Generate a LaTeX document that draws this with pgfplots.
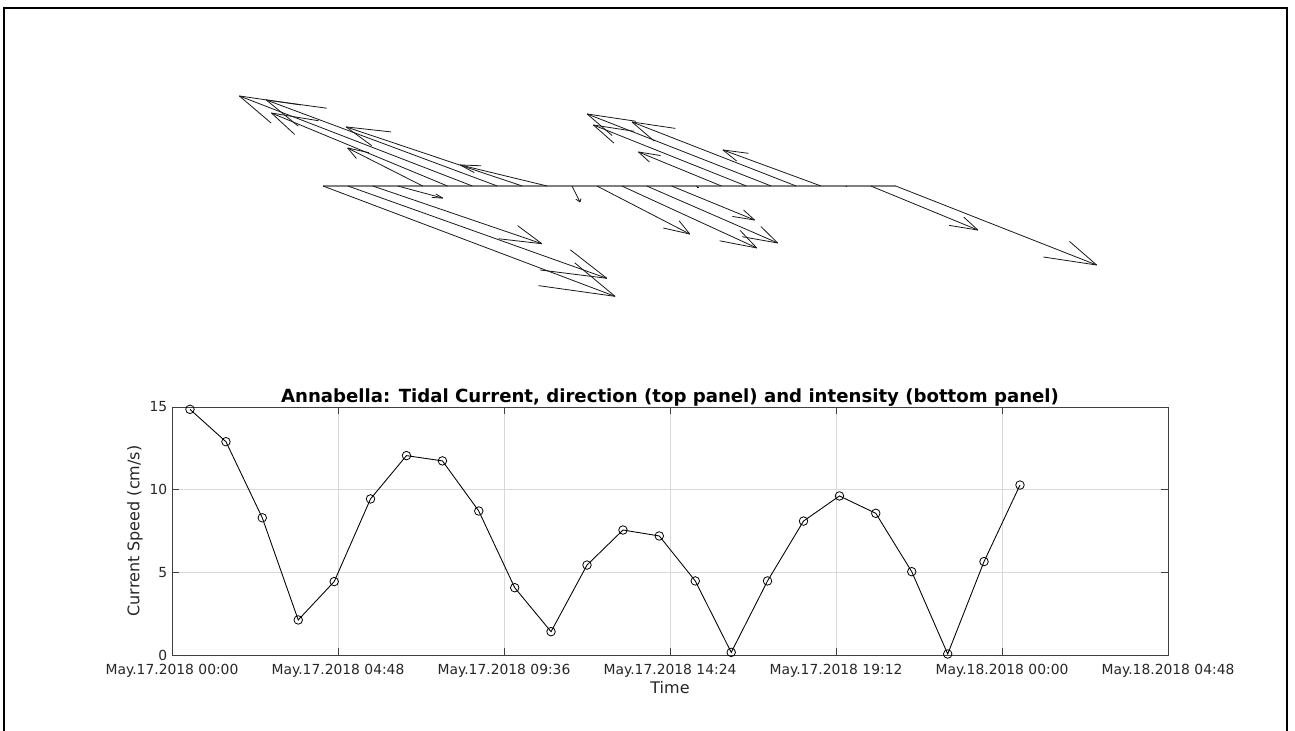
\documentclass[border=0pt]{standalone}
\usepackage{pgfplots}
\pgfplotsset{compat=1.18}
\usepackage{pgfplotstable}
\usepackage{fontspec}
\setmainfont{DejaVu Sans}

% feather (direction) data: index, u, v
\pgfplotstableread{
x u v
0 11.73 -9.12
1 10.40 -7.63
2 6.79 -4.77
3 1.81 -1.00
4 -3.01 3.14
5 -7.07 6.03
6 -9.36 7.44
7 -9.28 7.11
8 -7.07 4.88
9 -3.49 1.74
10 0.32 -1.32
11 3.73 -3.97
12 5.42 -5.12
13 5.26 -4.71
14 3.33 -2.81
15 0.06 -0.15
16 -3.33 2.81
17 -6.14 5.04
18 -7.39 5.95
19 -6.59 5.29
20 -3.94 2.98
21 0.03 -0.05
22 4.30 -3.64
23 8.07 -6.53
}\arrows

% speed data: hours after May.17.2018 00:00, speed (cm/s)
\pgfplotstableread{
t s
0.52 14.86
1.56 12.90
2.61 8.30
3.65 2.12
4.69 4.44
5.74 9.44
6.78 12.06
7.82 11.74
8.87 8.71
9.91 4.07
10.96 1.41
12.00 5.44
13.04 7.56
14.09 7.20
15.13 4.48
16.17 0.16
17.22 4.48
18.26 8.10
19.30 9.62
20.35 8.57
21.39 5.04
22.43 0.06
23.48 5.65
24.52 10.28
}\speed

\begin{document}
\begin{tikzpicture}
\path[use as bounding box] (0pt,0pt) rectangle (971.25pt,-548.25pt);
\draw[line width=1.2pt] (3pt,-548.25pt) -- (3pt,-6pt) -- (965.25pt,-6pt) -- (965.25pt,-548.25pt);

% top panel: feather plot
\begin{axis}[
  at={(148.875pt,-230.25pt)}, anchor=south west,
  scale only axis, width=690.98pt, height=172.43pt,
  xmin=-5, xmax=32, ymin=-10, ymax=9,
  hide axis, clip=false]
\addplot[black!50, line width=1pt] table[x=x, y expr=0] {\arrows};
\addplot[black!90, line width=0.6pt, quiver={u=\thisrow{u}, v=\thisrow{v}}]
  table[x=x, y expr=0] {\arrows};
\addplot[black!90, line width=0.6pt,
  quiver={u={-0.2*\thisrow{u}-0.08*\thisrow{v}}, v={-0.2*\thisrow{v}+0.08*\thisrow{u}}}]
  table[x expr={\thisrow{x}+\thisrow{u}}, y=v] {\arrows};
\addplot[black!90, line width=0.6pt,
  quiver={u={-0.2*\thisrow{u}+0.08*\thisrow{v}}, v={-0.2*\thisrow{v}-0.08*\thisrow{u}}}]
  table[x expr={\thisrow{x}+\thisrow{u}}, y=v] {\arrows};
\end{axis}

% bottom panel: intensity
\begin{axis}[
  at={(129pt,-491.25pt)}, anchor=south west,
  scale only axis, width=747pt, height=186pt,
  xmin=0, xmax=28.8, ymin=0, ymax=15,
  xtick={0,4.8,9.6,14.4,19.2,24,28.8},
  xticklabels={May.17.2018 00:00, May.17.2018 04:48, May.17.2018 09:36, May.17.2018 14:24, May.17.2018 19:12, May.18.2018 00:00, May.18.2018 04:48},
  ytick={0,5,10,15},
  grid=major, grid style={gray!30, line width=0.5pt},
  axis line style={black!75, line width=0.6pt},
  tick style={black!75, line width=0.6pt},
  tick align=inside, major tick length=5pt,
  /pgf/number format/assume math mode=true,
  ticklabel style={font=\fontsize{10.4}{12}\selectfont, text=black!85},
  xticklabel style={yshift=-3pt},
  every axis title shift=0pt,
  title={Annabella: Tidal Current, direction (top panel) and intensity (bottom panel)},
  title style={font=\bfseries\fontsize{13.6}{16}\selectfont, at={(axis description cs:0.5,1.0363)}, anchor=center},
  xlabel={Time},
  xlabel style={font=\fontsize{12}{14}\selectfont, text=black!85, at={(axis description cs:0.5,-0.133)}, anchor=center},
  ylabel={Current Speed (cm/s)},
  ylabel style={font=\fontsize{12}{14}\selectfont, text=black!85, at={(axis description cs:-0.0371,0.5)}, anchor=center},
]
\addplot[black, line width=0.65pt, mark=o, mark size=3.2pt, mark options={line width=0.6pt}]
  table[x=t, y=s] {\speed};
\end{axis}
\end{tikzpicture}
\end{document}
